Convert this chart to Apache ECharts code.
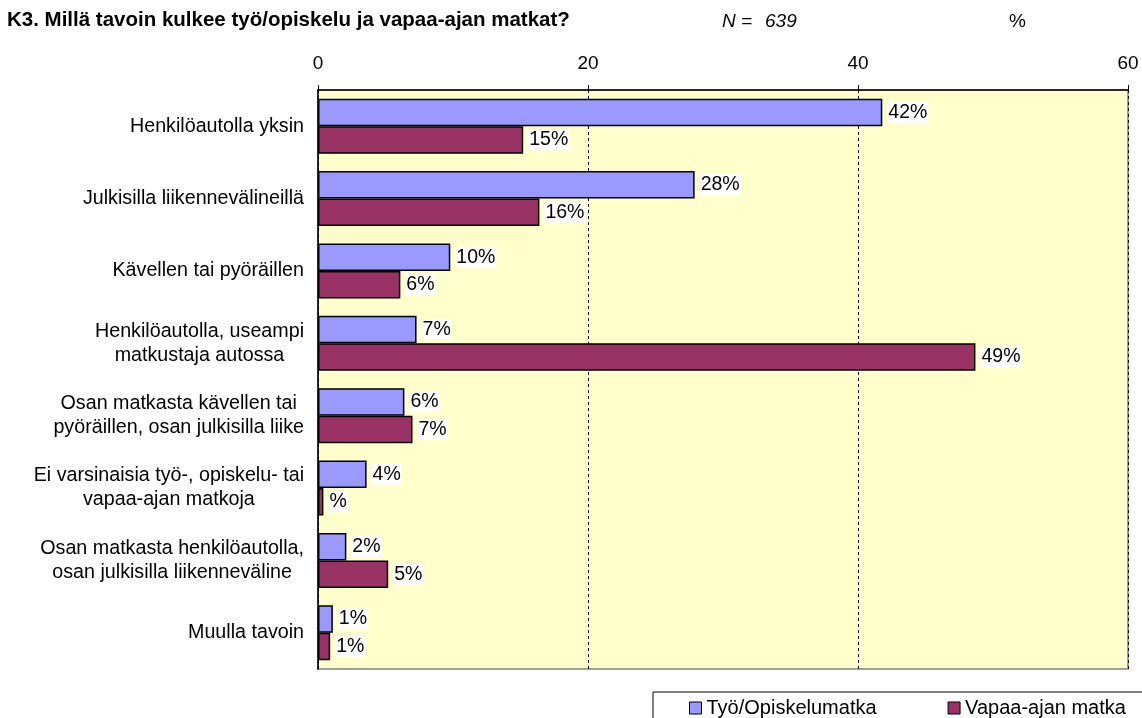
<!DOCTYPE html>
<html>
<head>
<meta charset="utf-8">
<script src="https://cdn.jsdelivr.net/npm/echarts@6/dist/echarts.min.js"></script>
<style>
  html, body { margin: 0; padding: 0; background: #fff; }
  #chart { width: 1142px; height: 718px; }
</style>
</head>
<body>
<div id="chart"></div>
<script>
// kategoriat ylhäältä alas
const categories = [
  'Henkilöautolla yksin',
  'Julkisilla liikennevälineillä',
  'Kävellen tai pyöräillen',
  'Henkilöautolla, useampi\nmatkustaja autossa',
  'Osan matkasta kävellen tai\npyöräillen, osan julkisilla liike',
  'Ei varsinaisia työ-, opiskelu- tai\nvapaa-ajan matkoja',
  'Osan matkasta henkilöautolla,\nosan julkisilla liikenneväline',
  'Muulla tavoin'
];
const seriesNames = ['Työ/Opiskelumatka', 'Vapaa-ajan matka'];
const workValues = [41.8, 27.9, 9.8, 7.3, 6.4, 3.6, 2.1, 1.1];
const leisureValues = [15.2, 16.4, 6.1, 48.7, 7.0, 0.4, 5.2, 0.9];
const xTicks = [0, 20, 40, 60];

const font = 'Liberation Sans, Arial, sans-serif';

function pct(p) {
  const r = Math.round(p.value);
  return r === 0 ? '%' : r + '%';
}

const labelStyle = {
  show: true,
  position: 'right',
  distance: 5,
  formatter: pct,
  color: '#000',
  fontFamily: font,
  fontSize: 19.5,
  backgroundColor: '#fff',
  padding: [1, 1, 0, 1]
};

const chart = echarts.init(document.getElementById('chart'));
chart.setOption({
  animation: false,
  textStyle: { fontFamily: font },
  title: [
    { text: 'K3. Millä tavoin kulkee työ/opiskelu ja vapaa-ajan matkat?', left: 7, top: 10, padding: 0,
      textStyle: { fontSize: 20.5, fontWeight: 'bold', color: '#000', fontFamily: font } },
    { text: 'N =', left: 722, top: 12, padding: 0,
      textStyle: { fontSize: 19, fontStyle: 'italic', fontWeight: 'normal', color: '#000', fontFamily: font } },
    { text: '639', left: 765, top: 12, padding: 0,
      textStyle: { fontSize: 19, fontStyle: 'italic', fontWeight: 'normal', color: '#000', fontFamily: font } },
    { text: '%', left: 1009, top: 12, padding: 0,
      textStyle: { fontSize: 19, fontWeight: 'normal', color: '#000', fontFamily: font } }
  ],
  grid: {
    left: 318, right: 14, top: 90, bottom: 49,
    show: true, backgroundColor: '#FFFFCC', borderColor: '#808080', borderWidth: 1.5
  },
  xAxis: {
    type: 'value', position: 'top',
    min: xTicks[0], max: xTicks[xTicks.length - 1], interval: 20,
    axisLine: { show: true, lineStyle: { color: '#000', width: 1.5 } },
    axisTick: { show: true, inside: false, length: 5, lineStyle: { color: '#000' } },
    axisLabel: { color: '#000', fontSize: 19, margin: 17, fontFamily: font },
    splitLine: { show: true, lineStyle: { color: '#000', type: [3, 3], width: 1 } }
  },
  yAxis: {
    type: 'category', inverse: true, data: categories,
    axisLine: { show: true, lineStyle: { color: '#000', width: 1.5 } },
    axisTick: { show: false },
    axisLabel: {
      color: '#000', fontSize: 19.7, margin: 14, lineHeight: 24, fontFamily: font, align: 'right',
      formatter: v => v.split('\n').map(l => '{c|' + l + '}').join('\n'),
      rich: { c: { align: 'center', fontSize: 19.7, lineHeight: 24, color: '#000', fontFamily: font } }
    }
  },
  legend: {
    left: 689, top: 698, itemWidth: 12, itemHeight: 12, itemGap: 71, padding: 0,
    icon: 'rect',
    itemStyle: { borderColor: '#000', borderWidth: 1 },
    textStyle: { fontSize: 20, lineHeight: 20, color: '#000', fontFamily: font },
    data: seriesNames
  },
  graphic: [
    { type: 'rect', shape: { x: 653, y: 692, width: 520, height: 40 },
      style: { fill: 'none', stroke: '#000', lineWidth: 1 }, z: 10, silent: true }
  ],
  series: [
    {
      name: seriesNames[0], type: 'bar', data: workValues,
      barWidth: 27.5, barGap: '0%',
      itemStyle: { color: '#9999FF', borderColor: '#000', borderWidth: 1.5 },
      label: labelStyle
    },
    {
      name: seriesNames[1], type: 'bar', data: leisureValues,
      barWidth: 27.5, barGap: '0%',
      itemStyle: { color: '#993366', borderColor: '#000', borderWidth: 1.5 },
      label: labelStyle
    }
  ]
});
</script>
</body>
</html>
